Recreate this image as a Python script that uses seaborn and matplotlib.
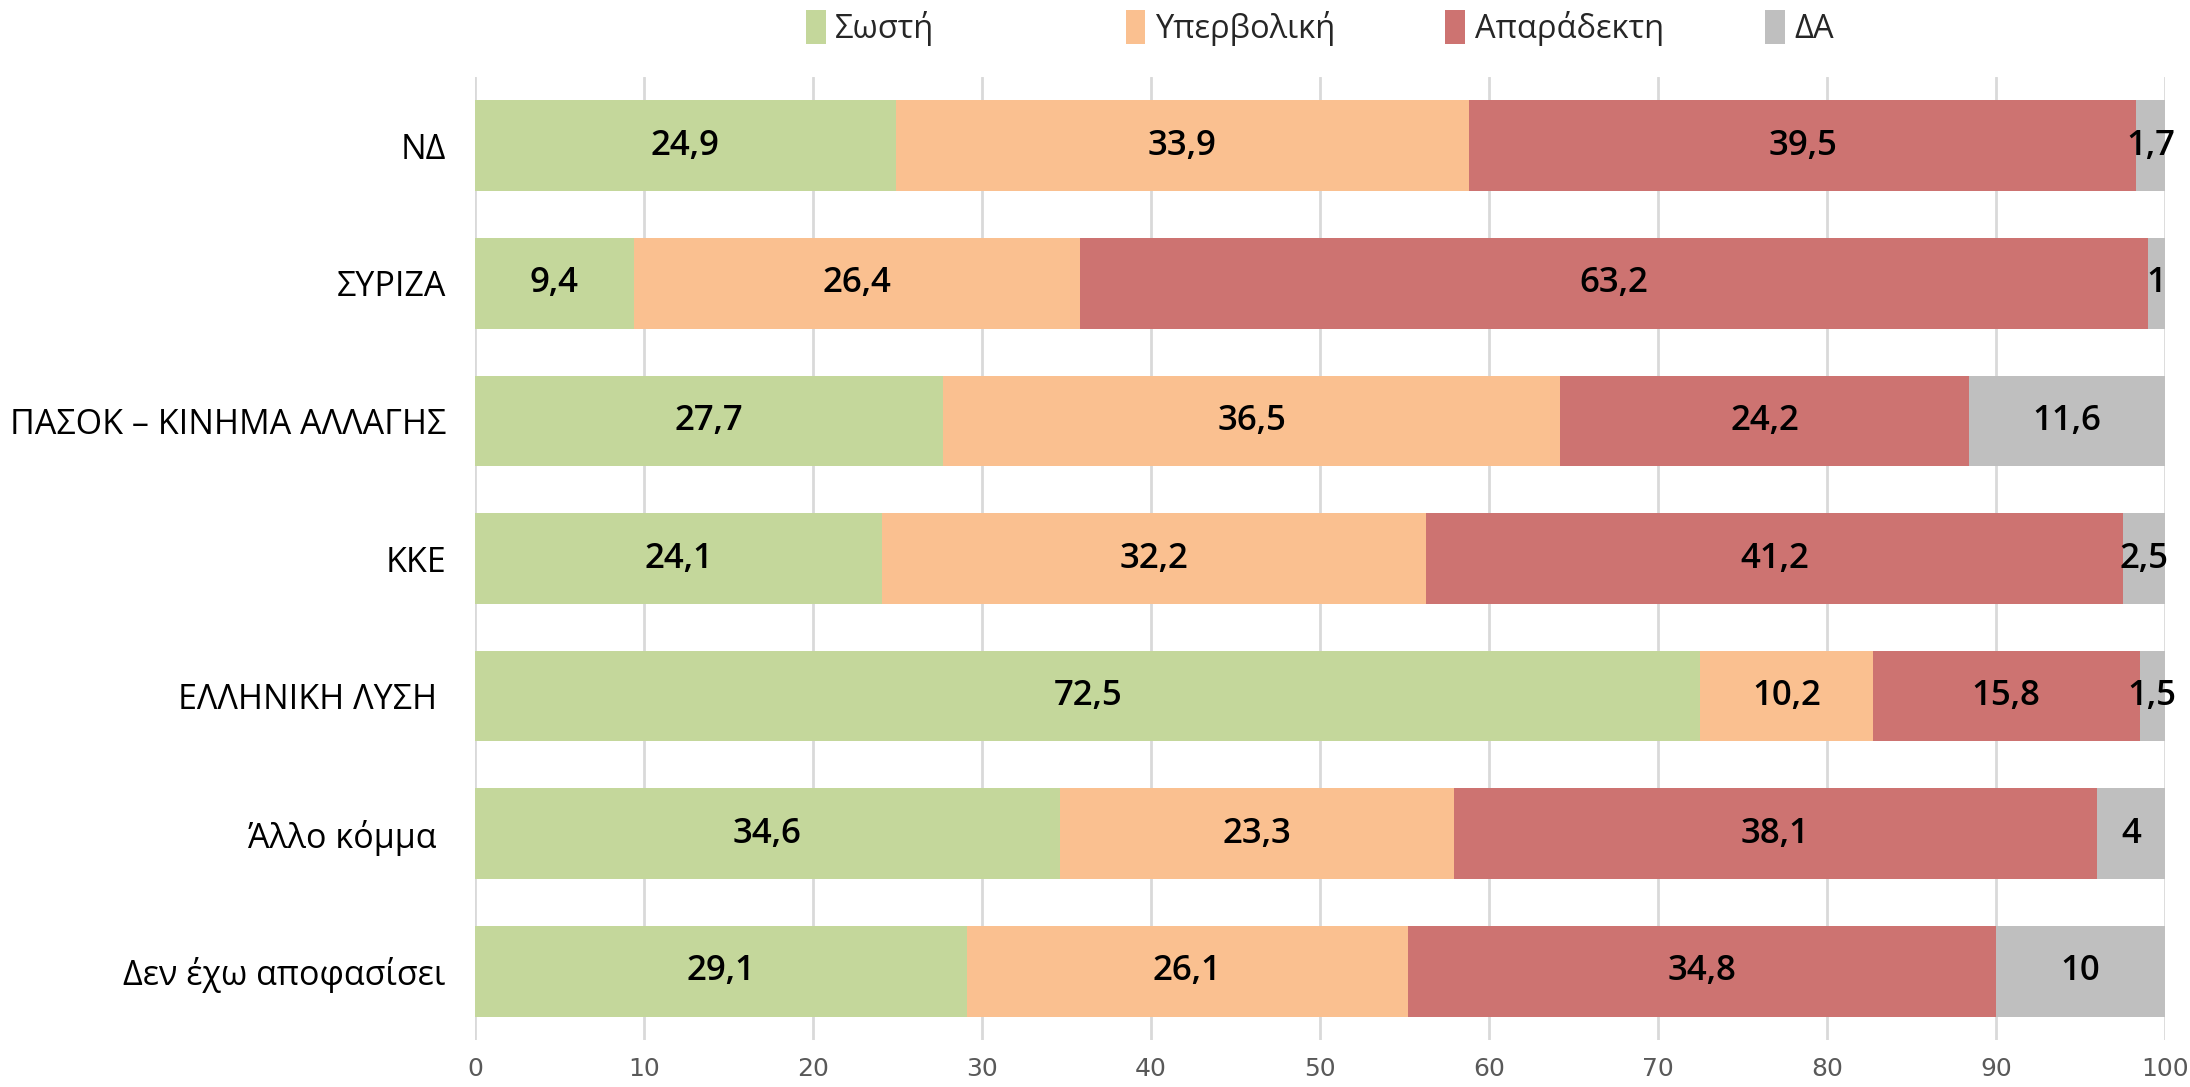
import matplotlib.pyplot as plt
import seaborn as sns
import numpy as np
from matplotlib.patches import Patch

sns.set_theme(style="whitegrid")
plt.rcParams["font.family"] = ["Open Sans", "DejaVu Sans"]

parties = [
    "ΝΔ",
    "ΣΥΡΙΖΑ",
    "ΠΑΣΟΚ – ΚΙΝΗΜΑ ΑΛΛΑΓΗΣ",
    "ΚΚΕ",
    "ΕΛΛΗΝΙΚΗ ΛΥΣΗ ",
    "Άλλο κόμμα ",
    "Δεν έχω αποφασίσει",
]
series_names = ["Σωστή", "Υπερβολική", "Απαράδεκτη", "ΔΑ"]
sosti = [24.9, 9.4, 27.7, 24.1, 72.5, 34.6, 29.1]
yperboliki = [33.9, 26.4, 36.5, 32.2, 10.2, 23.3, 26.1]
aparadekti = [39.5, 63.2, 24.2, 41.2, 15.8, 38.1, 34.8]
da = [1.7, 1.0, 11.6, 2.5, 1.5, 4.0, 10.0]
label_text = {
    "Σωστή": ["24,9", "9,4", "27,7", "24,1", "72,5", "34,6", "29,1"],
    "Υπερβολική": ["33,9", "26,4", "36,5", "32,2", "10,2", "23,3", "26,1"],
    "Απαράδεκτη": ["39,5", "63,2", "24,2", "41,2", "15,8", "38,1", "34,8"],
    "ΔΑ": ["1,7", "1", "11,6", "2,5", "1,5", "4", "10"],
}
colors = ["#C4D79B", "#FAC090", "#CD7371", "#BFBFBF"]

values = np.array([sosti, yperboliki, aparadekti, da])
cums = np.cumsum(values, axis=0)

fig = plt.figure(figsize=(21.9, 10.87), dpi=100)
ax = fig.add_axes([0.2169, 0.0432, 0.7717, 0.886])

# draw from the full stack down so each segment shows on top of the next
for i in range(3, -1, -1):
    sns.barplot(x=cums[i], y=parties, color=colors[i], orient="h",
                width=0.66, linewidth=0, saturation=1, ax=ax)

for i, name in enumerate(series_names):
    starts = cums[i] - values[i]
    for j in range(len(parties)):
        ax.text(starts[j] + values[i][j] / 2, j, label_text[name][j],
                ha="center", va="center", fontsize=25, fontweight="semibold",
                color="black")

ax.set_xlim(0, 100)
ax.set_ylim(6.5, -0.5)
ax.set_xticks(range(0, 101, 10))
ax.set_xlabel("")
ax.set_ylabel("")
ax.grid(axis="x", color="#D9D9D9", linewidth=2)
ax.grid(axis="y", visible=False)
ax.set_axisbelow(True)
for s in ax.spines.values():
    s.set_visible(False)
ax.tick_params(axis="y", labelsize=24.5, pad=21, length=0, labelcolor="black")
ax.tick_params(axis="x", labelsize=18, pad=12, length=0, labelcolor="#595959")
for t in ax.get_xticklabels():
    t.set_family(["Liberation Sans Narrow", "DejaVu Sans"])

# one legend entry per slot so the swatches sit evenly spaced like the original
legend_x = [0.368, 0.514, 0.660, 0.806]
for name, c, lx in zip(series_names, colors, legend_x):
    leg = fig.legend([Patch(facecolor=c, edgecolor="none")], [name],
                     loc="center left", bbox_to_anchor=(lx, 0.974),
                     frameon=False, fontsize=23.5, handlelength=0.6,
                     handleheight=1.2, handletextpad=0.3, borderpad=0,
                     borderaxespad=0)

fig.savefig("out.png", dpi=100)
